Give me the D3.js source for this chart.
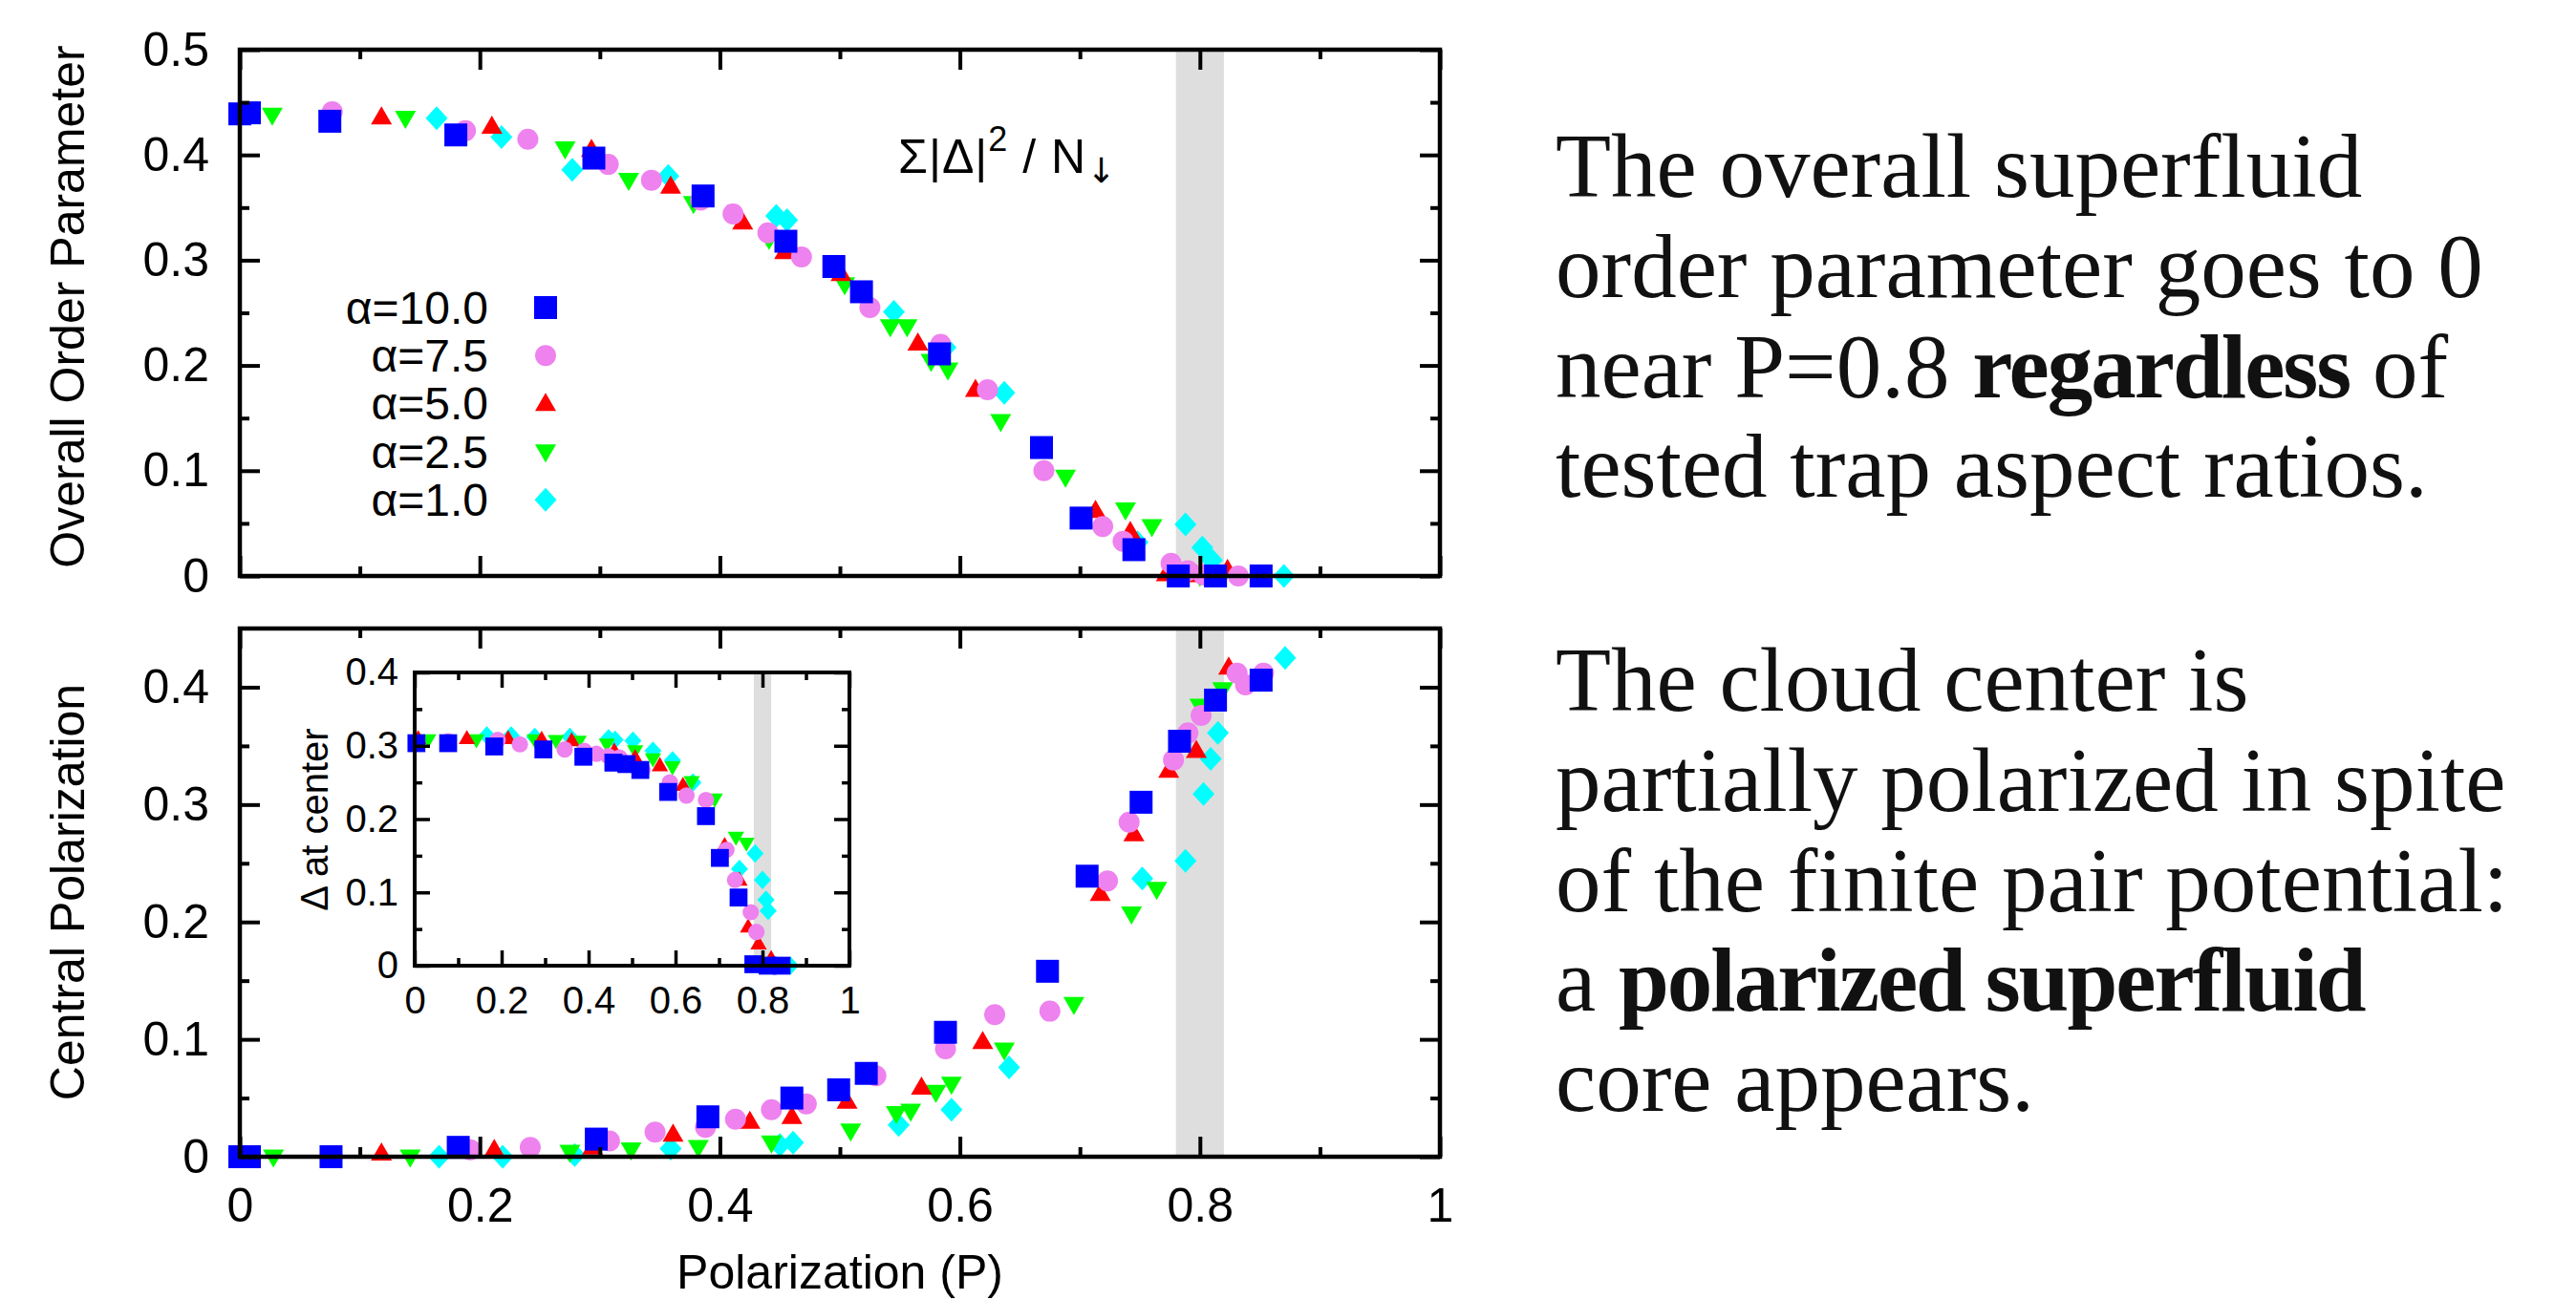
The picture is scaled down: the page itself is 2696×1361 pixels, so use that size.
<!DOCTYPE html>
<html><head><meta charset="utf-8">
<script src="https://cdn.jsdelivr.net/npm/d3@7"></script>
<style>html,body{margin:0;padding:0;background:#fff;overflow:hidden}</style>
</head><body><svg id="c" width="2696" height="1361"></svg>
<script>
// ---------------- DATA ----------------
const seriesNames = ["α=10.0", "α=7.5", "α=5.0", "α=2.5", "α=1.0"];
const seriesColors = ["#0000ff", "#ee82ee", "#ff0000", "#00ff00", "#00ffff"];
const seriesShapes = ["square", "circle", "triUp", "triDown", "diamond"];

// Overall order parameter (top panel): [P, value]
const overallA100 = [[0,0.439],[0.008,0.44],[0.075,0.432],[0.18,0.419],[0.295,0.397],[0.386,0.361],[0.455,0.318],[0.495,0.294],[0.518,0.27],[0.583,0.211],[0.668,0.122],[0.701,0.055],[0.745,0.025],[0.782,0],[0.813,0],[0.851,0]];
const overallA75 = [[0.077,0.441],[0.188,0.423],[0.24,0.415],[0.307,0.391],[0.343,0.376],[0.384,0.357],[0.411,0.344],[0.44,0.326],[0.468,0.303],[0.525,0.255],[0.584,0.22],[0.623,0.177],[0.67,0.1],[0.719,0.047],[0.736,0.033],[0.776,0.012],[0.79,0.005],[0.803,0.001],[0.832,0]];
const overallA50 = [[0.005,0.441],[0.118,0.436],[0.21,0.427],[0.293,0.405],[0.359,0.37],[0.419,0.336],[0.454,0.308],[0.501,0.287],[0.565,0.221],[0.613,0.177],[0.713,0.062],[0.742,0.042],[0.772,0.002],[0.797,0.001],[0.823,0.006]];
const overallA25 = [[0.027,0.438],[0.138,0.435],[0.271,0.406],[0.324,0.376],[0.378,0.354],[0.441,0.32],[0.504,0.277],[0.542,0.237],[0.556,0.237],[0.576,0.204],[0.59,0.196],[0.634,0.147],[0.688,0.094],[0.738,0.063],[0.76,0.047],[0.8,0],[0.819,0]];
const overallA10 = [[0.164,0.435],[0.218,0.417],[0.277,0.386],[0.357,0.38],[0.447,0.342],[0.456,0.338],[0.545,0.251],[0.588,0.217],[0.637,0.174],[0.748,0.032],[0.788,0.049],[0.802,0.027],[0.81,0.015],[0.87,0]];

// Central polarization (bottom panel)
const centralA100 = [[0,0],[0.008,0],[0.076,0],[0.182,0.008],[0.297,0.015],[0.39,0.034],[0.46,0.05],[0.499,0.057],[0.522,0.071],[0.588,0.106],[0.673,0.158],[0.706,0.239],[0.751,0.302],[0.783,0.354],[0.813,0.389],[0.851,0.406]];
const centralA75 = [[0.077,0],[0.192,0.006],[0.242,0.008],[0.308,0.0135],[0.346,0.021],[0.388,0.025],[0.413,0.032],[0.443,0.04],[0.472,0.045],[0.53,0.069],[0.588,0.092],[0.629,0.121],[0.675,0.124],[0.723,0.235],[0.741,0.285],[0.778,0.338],[0.79,0.361],[0.801,0.376],[0.831,0.412],[0.838,0.402],[0.853,0.412]];
const centralA50 = [[0.005,0],[0.118,0.003],[0.212,0.006],[0.294,0.008],[0.361,0.019],[0.425,0.03],[0.46,0.034],[0.506,0.047],[0.568,0.059],[0.619,0.098],[0.717,0.224],[0.745,0.275],[0.774,0.329],[0.797,0.346],[0.824,0.417]];
const centralA25 = [[0.028,0],[0.142,0],[0.275,0.004],[0.326,0.006],[0.382,0.008],[0.443,0.012],[0.509,0.022],[0.547,0.037],[0.559,0.039],[0.58,0.055],[0.593,0.062],[0.637,0.091],[0.695,0.13],[0.743,0.207],[0.764,0.228],[0.8,0.384],[0.819,0.398]];
const centralA10 = [[0.166,0],[0.219,0],[0.279,0.0015],[0.359,0.007],[0.45,0.01],[0.461,0.012],[0.549,0.027],[0.593,0.04],[0.641,0.076],[0.752,0.237],[0.788,0.252],[0.803,0.309],[0.809,0.339],[0.815,0.361],[0.871,0.425]];

// Δ at center (inset)
const insetA100 = [[0.004,0.3035],[0.077,0.3035],[0.183,0.299],[0.296,0.295],[0.388,0.285],[0.457,0.277],[0.487,0.275],[0.519,0.267],[0.583,0.237],[0.67,0.204],[0.702,0.147],[0.745,0.093],[0.779,0.002],[0.812,0],[0.844,0]];
const insetA75 = [[0.077,0.306],[0.191,0.308],[0.242,0.302],[0.345,0.295],[0.39,0.293],[0.418,0.289],[0.445,0.286],[0.471,0.284],[0.524,0.267],[0.587,0.25],[0.625,0.232],[0.67,0.226],[0.717,0.158],[0.737,0.117],[0.773,0.073],[0.786,0.046],[0.8,0.002],[0.832,0]];
const insetA50 = [[0.008,0.31],[0.12,0.31],[0.215,0.31],[0.292,0.309],[0.361,0.307],[0.459,0.293],[0.507,0.284],[0.564,0.273],[0.617,0.246],[0.713,0.164],[0.747,0.117],[0.767,0.053],[0.791,0.03],[0.82,0.01]];
const insetA25 = [[0.031,0.308],[0.142,0.308],[0.276,0.308],[0.325,0.307],[0.377,0.306],[0.442,0.302],[0.507,0.293],[0.548,0.282],[0.593,0.271],[0.637,0.251],[0.69,0.227],[0.739,0.175],[0.763,0.167],[0.8,0]];
const insetA10 = [[0.166,0.314],[0.222,0.314],[0.276,0.312],[0.357,0.312],[0.446,0.31],[0.461,0.308],[0.502,0.307],[0.548,0.293],[0.593,0.28],[0.64,0.25],[0.747,0.132],[0.783,0.153],[0.8,0.117],[0.808,0.09],[0.813,0.075],[0.864,0]];

// shaded region of P
const bandRange = [0.78, 0.82];

// ticks
const xMajorTicks = [0, 0.2, 0.4, 0.6, 0.8, 1];
const xMinorTicks = [0.1, 0.3, 0.5, 0.7, 0.9];
const xTickLabels = ["0", "0.2", "0.4", "0.6", "0.8", "1"];
const topYMajor = [0, 0.1, 0.2, 0.3, 0.4, 0.5];
const topYMinor = [0.05, 0.15, 0.25, 0.35, 0.45];
const topYLabels = ["0", "0.1", "0.2", "0.3", "0.4", "0.5"];
const botYMajor = [0, 0.1, 0.2, 0.3, 0.4];
const botYMinor = [0.05, 0.15, 0.25, 0.35];
const botYLabels = ["0", "0.1", "0.2", "0.3", "0.4"];
const insYMajor = [0, 0.1, 0.2, 0.3, 0.4];
const insYMinor = [0.05, 0.15, 0.25, 0.35];
const insYLabels = ["0", "0.1", "0.2", "0.3", "0.4"];

const topYTitle = "Overall Order Parameter";
const botYTitle = "Central Polarization";
const xTitle = "Polarization (P)";
const insetYTitle = "Δ at center";

const para1 = [[["The overall superfluid", false]], [["order parameter goes to 0", false]], [["near P=0.8 ", false], ["regardless", true], [" of", false]], [["tested trap aspect ratios.", false]]];
const para2 = [[["The cloud center is", false]], [["partially polarized in spite", false]], [["of the finite pair potential:", false]], [["a ", false], ["polarized superfluid", true]], [["core appears.", false]]];

// ---------------- DRAW ----------------
const SANS = "'Liberation Sans', Arial, Helvetica, sans-serif";
const SERIF = "'Liberation Serif', 'Times New Roman', serif";
const svg = d3.select("#c");
svg.append("rect").attr("width", 2696).attr("height", 1361).attr("fill", "#fff");

const overallSets = [overallA100, overallA75, overallA50, overallA25, overallA10];
const centralSets = [centralA100, centralA75, centralA50, centralA25, centralA10];
const insetSets = [insetA100, insetA75, insetA50, insetA25, insetA10];

function shapePath(shape, k) {
  const p = d3.path();
  if (shape === "square") { const s = 24 * k; p.rect(-s / 2, -s / 2, s, s); }
  else if (shape === "circle") { const r = 11 * k; p.moveTo(r, 0); p.arc(0, 0, r, 0, 2 * Math.PI); }
  else if (shape === "triUp") { const w = 22 * k, h = 19 * k; p.moveTo(0, -0.6 * h); p.lineTo(w / 2, 0.4 * h); p.lineTo(-w / 2, 0.4 * h); p.closePath(); }
  else if (shape === "triDown") { const w = 22 * k, h = 19 * k; p.moveTo(0, 0.6 * h); p.lineTo(w / 2, -0.4 * h); p.lineTo(-w / 2, -0.4 * h); p.closePath(); }
  else if (shape === "diamond") { const w = 23 * k, h = 25 * k; p.moveTo(0, -h / 2); p.lineTo(w / 2, 0); p.lineTo(0, h / 2); p.lineTo(-w / 2, 0); p.closePath(); }
  return p.toString();
}

function styleAxis(sel, fs, tw) {
  sel.select(".domain").remove();
  sel.attr("font-family", SANS).attr("font-size", fs);
  sel.selectAll("line").attr("stroke", "#000").attr("stroke-width", tw);
  sel.selectAll("text").attr("fill", "#000");
}

function panel(cfg) {
  const g = svg.append("g");
  const x = d3.scaleLinear().domain([0, 1]).range([cfg.x0, cfg.x1]);
  const y = d3.scaleLinear().domain(cfg.yDomain).range([cfg.yB, cfg.yT]);
  if (cfg.bg) g.append("rect").attr("x", cfg.x0).attr("y", cfg.yT).attr("width", cfg.x1 - cfg.x0).attr("height", cfg.yB - cfg.yT).attr("fill", "#fff");
  g.append("rect").attr("x", x(bandRange[0])).attr("y", cfg.yT)
    .attr("width", x(bandRange[1]) - x(bandRange[0])).attr("height", cfg.yB - cfg.yT).attr("fill", "#dedede");
  for (let i = cfg.sets.length - 1; i >= 0; i--) {
    g.append("g").selectAll("path").data(cfg.sets[i]).join("path")
      .attr("d", shapePath(seriesShapes[i], cfg.k))
      .attr("transform", d => `translate(${x(d[0])},${y(d[1])})`)
      .attr("fill", seriesColors[i]);
  }
  const M = cfg.maj, m = cfg.min, tw = cfg.tw;
  const la = g.append("g").attr("transform", `translate(${cfg.x0},0)`)
    .call(d3.axisLeft(y).tickValues(cfg.yMajor).tickSize(-M).tickPadding(cfg.yPad).tickFormat((d, i) => cfg.yLabels[i]));
  styleAxis(la, cfg.fs, tw);
  const lm = g.append("g").attr("transform", `translate(${cfg.x0},0)`)
    .call(d3.axisLeft(y).tickValues(cfg.yMinor).tickSize(-m).tickFormat(""));
  styleAxis(lm, cfg.fs, tw);
  const ra = g.append("g").attr("transform", `translate(${cfg.x1},0)`)
    .call(d3.axisRight(y).tickValues(cfg.yMajor).tickSize(-M).tickFormat(""));
  styleAxis(ra, cfg.fs, tw);
  const rm = g.append("g").attr("transform", `translate(${cfg.x1},0)`)
    .call(d3.axisRight(y).tickValues(cfg.yMinor).tickSize(-m).tickFormat(""));
  styleAxis(rm, cfg.fs, tw);
  const ta = g.append("g").attr("transform", `translate(0,${cfg.yT})`)
    .call(d3.axisTop(x).tickValues(xMajorTicks).tickSize(-M).tickFormat(""));
  styleAxis(ta, cfg.fs, tw);
  const tm = g.append("g").attr("transform", `translate(0,${cfg.yT})`)
    .call(d3.axisTop(x).tickValues(xMinorTicks).tickSize(-m).tickFormat(""));
  styleAxis(tm, cfg.fs, tw);
  const ba = g.append("g").attr("transform", `translate(0,${cfg.yB})`)
    .call(d3.axisBottom(x).tickValues(xMajorTicks).tickSize(-M).tickPadding(cfg.xPad)
      .tickFormat(cfg.xLabels ? (d, i) => xTickLabels[i] : ""));
  styleAxis(ba, cfg.fs, tw);
  const bm = g.append("g").attr("transform", `translate(0,${cfg.yB})`)
    .call(d3.axisBottom(x).tickValues(xMinorTicks).tickSize(-m).tickFormat(""));
  styleAxis(bm, cfg.fs, tw);
  g.append("rect").attr("x", cfg.x0).attr("y", cfg.yT).attr("width", cfg.x1 - cfg.x0).attr("height", cfg.yB - cfg.yT)
    .attr("fill", "none").attr("stroke", "#000").attr("stroke-width", cfg.fw);
  return { x, y, g };
}

const topPanel = panel({ x0: 251, x1: 1507, yT: 52, yB: 603, yDomain: [0, 0.5], sets: overallSets, k: 1,
  yMajor: topYMajor, yMinor: topYMinor, yLabels: topYLabels, xLabels: false,
  maj: 21, min: 10, tw: 4, fw: 4.5, fs: 50, yPad: 32, xPad: 32 });
const botPanel = panel({ x0: 251, x1: 1507, yT: 658, yB: 1211, yDomain: [0, 0.45], sets: centralSets, k: 1,
  yMajor: botYMajor, yMinor: botYMinor, yLabels: botYLabels, xLabels: true,
  maj: 21, min: 10, tw: 4, fw: 4.5, fs: 50, yPad: 32, xPad: 32 });
const insPanel = panel({ x0: 434, x1: 889, yT: 704, yB: 1011, yDomain: [0, 0.4], sets: insetSets, k: 0.78, bg: true,
  yMajor: insYMajor, yMinor: insYMinor, yLabels: insYLabels, xLabels: true,
  maj: 16, min: 8, tw: 3.5, fw: 4, fs: 40, yPad: 17, xPad: 22 });

svg.append("text").attr("transform", "translate(88,321) rotate(-90)").attr("text-anchor", "middle")
  .attr("font-family", SANS).attr("font-size", 50).text(topYTitle);
svg.append("text").attr("transform", "translate(88,934) rotate(-90)").attr("text-anchor", "middle")
  .attr("font-family", SANS).attr("font-size", 50).text(botYTitle);
svg.append("text").attr("x", 879).attr("y", 1349).attr("text-anchor", "middle")
  .attr("font-family", SANS).attr("font-size", 50).text(xTitle);
svg.append("text").attr("transform", "translate(343,858) rotate(-90)").attr("text-anchor", "middle")
  .attr("font-family", SANS).attr("font-size", 40).text(insetYTitle);

const leg = svg.append("g");
seriesNames.forEach((nm, i) => {
  const yy = 322 + i * 50.3;
  leg.append("text").attr("x", 511).attr("y", yy).attr("dy", "0.35em").attr("text-anchor", "end")
    .attr("font-family", SANS).attr("font-size", 48).text(nm);
  leg.append("path").attr("d", shapePath(seriesShapes[i], 1)).attr("transform", `translate(571,${yy})`).attr("fill", seriesColors[i]);
});

const ann = svg.append("text").attr("x", 940).attr("y", 181).attr("font-family", SANS).attr("font-size", 50).attr("letter-spacing", 1);
ann.append("tspan").text("Σ|Δ|");
ann.append("tspan").attr("font-size", 36).attr("dy", -23).text("2");
ann.append("tspan").attr("dy", 23).text(" / N");
ann.append("tspan").attr("font-size", 36).attr("dy", 10).attr("font-family", "'DejaVu Sans', sans-serif").text("↓");

function para(lines, baseY) {
  lines.forEach((ln, i) => {
    const t = svg.append("text").attr("x", 1628).attr("y", baseY + i * 104.8)
      .attr("font-family", SERIF).attr("font-size", 95).style("white-space", "pre").attr("fill", "#111");
    ln.forEach(seg => {
      const ts = t.append("tspan").attr("font-weight", seg[1] ? "bold" : "normal").text(seg[0]);
      if (seg[1]) ts.attr("letter-spacing", -2);
    });
  });
}
para(para1, 206);
para(para2, 744);
</script></body></html>
